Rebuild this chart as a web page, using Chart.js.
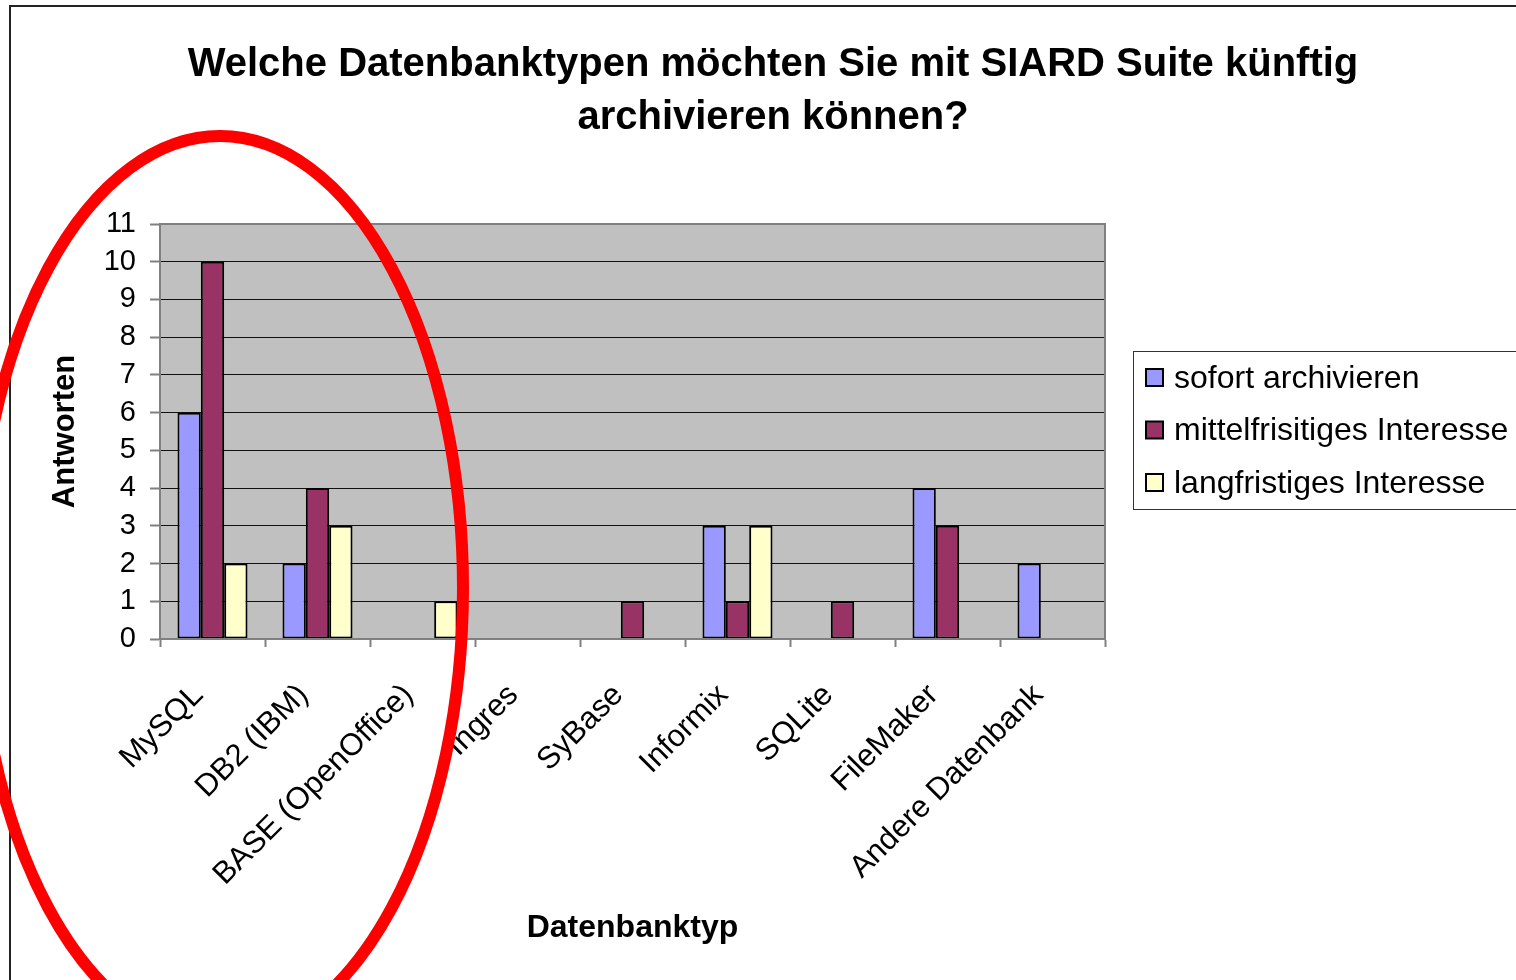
<!DOCTYPE html>
<html>
<head>
<meta charset="utf-8">
<script src="https://cdn.jsdelivr.net/npm/chart.js@4"></script>
<style>
  body { margin: 0; background: #fff; }
  canvas { display: block; }
</style>
</head>
<body>
<canvas id="myChart" width="1516" height="980"></canvas>
<script>
// Daten
const categories = ['MySQL', 'DB2 (IBM)', 'BASE (OpenOffice)', 'Ingres', 'SyBase', 'Informix', 'SQLite', 'FileMaker', 'Andere Datenbank']
const sofort = [6, 2, 0, 0, 0, 3, 0, 4, 2]
const mittelfristig = [10, 4, 0, 0, 1, 1, 1, 3, 0]
const langfristig = [2, 3, 1, 0, 0, 3, 0, 0, 0]
const seriesNames = ['sofort archivieren', 'mittelfrisitiges Interesse', 'langfristiges Interesse']
const seriesColors = ['#9999FF', '#993366', '#FFFFCC']
const titleLines = ['Welche Datenbanktypen möchten Sie mit SIARD Suite künftig', 'archivieren können?']
const yMax = 11

const FONT = "'Liberation Sans', Arial, sans-serif"
Chart.defaults.font.family = FONT
Chart.defaults.color = '#000'

// Hintergrund, Titel, Legende, Ellipse
const decoPlugin = {
    id: 'deco',
    beforeDraw(chart) {
        const {ctx, chartArea: a} = chart
        ctx.save()
        ctx.fillStyle = '#fff'
        ctx.fillRect(0, 0, chart.width, chart.height)
        ctx.fillStyle = '#C0C0C0'
        ctx.fillRect(a.left, a.top, a.right - a.left, a.bottom - a.top)
        ctx.restore()
    },
    afterDraw(chart) {
        const {ctx, chartArea: a} = chart
        ctx.save()

        // plot border
        ctx.strokeStyle = '#808080'
        ctx.lineWidth = 2
        ctx.strokeRect(a.left, a.top, a.right - a.left, a.bottom - a.top)

        // title
        ctx.fillStyle = '#000'
        ctx.font = `bold 40px ${FONT}`
        ctx.textAlign = 'center'
        ctx.textBaseline = 'middle'
        titleLines.forEach((t, i) => ctx.fillText(t, 773, 65 + i * 53))

        // legend
        ctx.strokeStyle = '#333'
        ctx.lineWidth = 1
        ctx.fillStyle = '#fff'
        ctx.fillRect(1133.5, 351.5, 500, 158)
        ctx.strokeRect(1133.5, 351.5, 500, 158)
        ctx.font = `32px ${FONT}`
        ctx.textAlign = 'left'
        seriesNames.forEach((name, i) => {
            const y = 378 + i * 52.5
            ctx.fillStyle = seriesColors[i]
            ctx.fillRect(1146, y - 9, 17, 17)
            ctx.strokeStyle = '#000'
            ctx.lineWidth = 2
            ctx.strokeRect(1146, y - 9, 17, 17)
            ctx.fillStyle = '#000'
            ctx.fillText(name, 1174, y + 1)
        })

        // frame of the whole chart
        ctx.strokeStyle = '#222'
        ctx.lineWidth = 2
        ctx.strokeRect(10, 6, 1600, 1100)

        // red ellipse
        ctx.strokeStyle = '#FF0000'
        ctx.lineWidth = 12
        ctx.beginPath()
        ctx.ellipse(220, 588, 243, 452, 0, 0, Math.PI * 2)
        ctx.stroke()
        ctx.restore()
    }
}

const datasets = [sofort, mittelfristig, langfristig].map((values, i) => ({
    label: seriesNames[i],
    data: values,
    backgroundColor: seriesColors[i],
    borderColor: '#000',
    borderWidth: 2,
    borderSkipped: false,
    categoryPercentage: 0.667,
    barPercentage: 1
}))

const canvas = document.getElementById('myChart')
var myChart = new Chart(canvas, {
    type: 'bar',
    data: { labels: categories, datasets: datasets },
    options: {
        responsive: false,
        animation: false,
        layout: { padding: { left: 10, right: 411, top: 224, bottom: 0 } },
        plugins: {
            legend: { display: false },
            title: { display: false },
            tooltip: { enabled: false }
        },
        scales: {
            x: {
                grid: { drawOnChartArea: false, tickLength: 8, tickColor: '#808080', tickWidth: 2, offset: true },
                border: { color: '#808080', width: 2 },
                ticks: { font: { size: 31 }, color: '#000', minRotation: 45, maxRotation: 45, autoSkip: false, padding: 30, labelOffset: -14 },
                title: { display: true, text: 'Datenbanktyp', font: { size: 32, weight: 'bold' }, color: '#000', padding: { top: 0, bottom: 33 } },
                afterFit(scale) { scale.height = 341 }
            },
            y: {
                min: 0,
                max: yMax,
                grid: { color: '#111', lineWidth: 1, tickLength: 10, tickColor: '#808080', tickWidth: 2 },
                border: { color: '#808080', width: 2 },
                ticks: { stepSize: 1, autoSkip: false, font: { size: 29 }, color: '#000', padding: 14 },
                title: { display: true, text: 'Antworten', font: { size: 31, weight: 'bold' }, color: '#000', padding: { top: 37, bottom: 0 } },
                afterFit(scale) { scale.width = 150 }
            }
        }
    },
    plugins: [decoPlugin]
})
</script>
</body>
</html>
